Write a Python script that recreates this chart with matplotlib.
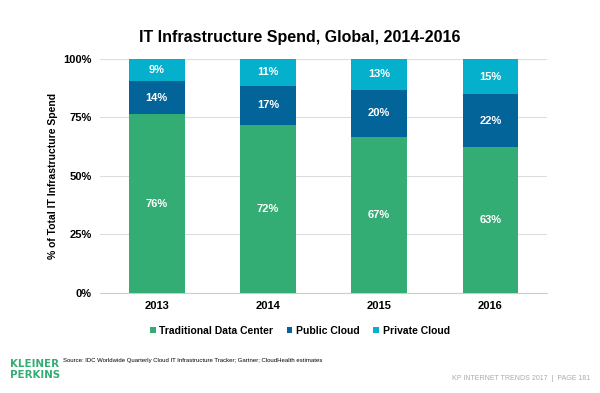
import matplotlib.pyplot as plt
import numpy as np

plt.rcParams['font.family'] = ['Liberation Sans', 'DejaVu Sans']

years = ['2013', '2014', '2015', '2016']
traditional = [76.4, 71.8, 66.8, 62.5]
public_cloud = [14.2, 16.8, 20.0, 22.4]
private_cloud = [9.4, 11.4, 13.2, 15.1]
trad_labels = ['76%', '72%', '67%', '63%']
public_labels = ['14%', '17%', '20%', '22%']
private_labels = ['9%', '11%', '13%', '15%']

colors = ['#33AD74', '#03649A', '#04B0CB']

fig = plt.figure(figsize=(6, 3.93), dpi=100)
ax = fig.add_axes([0.1667, 0.2545, 0.745, 0.5954])

x = np.arange(len(years))
trad = np.array(traditional)
pub = np.array(public_cloud)
priv = np.array(private_cloud)

ax.bar(x, trad, 0.5, color=colors[0], label='Traditional Data Center', zorder=3)
ax.bar(x, pub, 0.5, bottom=trad, color=colors[1], label='Public Cloud', zorder=3)
ax.bar(x, priv, 0.5, bottom=trad + pub, color=colors[2], label='Private Cloud', zorder=3)

# segment labels
for i in range(len(years)):
    ax.text(x[i], trad[i] / 2, trad_labels[i], ha='center', va='center',
            color='white', fontsize=8, fontweight='bold', zorder=4)
    ax.text(x[i], trad[i] + pub[i] / 2, public_labels[i], ha='center', va='center',
            color='white', fontsize=8, fontweight='bold', zorder=4)
    ax.text(x[i], trad[i] + pub[i] + priv[i] / 2, private_labels[i], ha='center', va='center',
            color='white', fontsize=8, fontweight='bold', zorder=4)

ax.set_xlim(-0.51, 3.51)
ax.set_ylim(0, 100)
ax.set_yticks([0, 25, 50, 75, 100])
ax.set_yticklabels(['0%', '25%', '50%', '75%', '100%'], fontsize=8, fontweight='bold')
ax.set_xticks(x)
ax.set_xticklabels(years, fontsize=8, fontweight='bold')
ax.tick_params(length=0, pad=6)
ax.grid(axis='y', color='#DDDDDD', linewidth=0.8, zorder=0)
for s in ['top', 'right', 'left']:
    ax.spines[s].set_visible(False)
ax.spines['bottom'].set_color('#CCCCCC')
ax.set_ylabel('% of Total IT Infrastructure Spend', fontsize=7.5, fontweight='bold', labelpad=4)

fig.text(0.5, 0.905, 'IT Infrastructure Spend, Global, 2014-2016', ha='center', va='center',
         fontsize=11.5, fontweight='bold')

ax.legend(loc='upper center', bbox_to_anchor=(0.447, -0.1), ncol=3, frameon=False,
          prop={'weight': 'bold', 'size': 7.5}, handlelength=0.55, handleheight=0.55,
          handletextpad=0.35, columnspacing=1.3)

# footer
fig.text(0.017, 0.06, 'KLEINER\nPERKINS', ha='left', va='center', color='#33AD74',
         fontsize=8.2, fontweight='bold', family='DejaVu Sans', fontstretch='condensed',
         linespacing=1.15)
fig.text(0.105, 0.082, 'Source: IDC Worldwide Quarterly Cloud IT Infrastructure Tracker; Gartner; CloudHealth estimates',
         ha='left', va='center', fontsize=4.3)
fig.text(0.983, 0.038, 'KP INTERNET TRENDS 2017  |  PAGE 181', ha='right', va='center',
         fontsize=5, color='#AAAAAA')

fig.savefig('out.png', dpi=100)
